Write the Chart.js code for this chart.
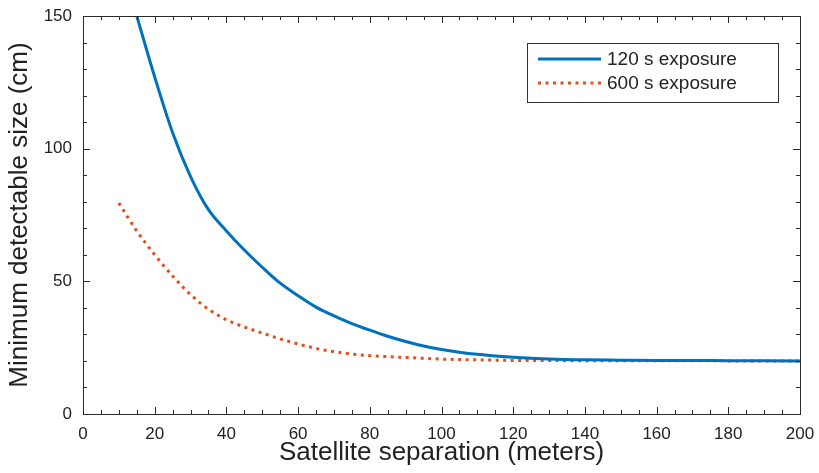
<!DOCTYPE html>
<html>
<head>
  <title>Minimum detectable size</title>
  <script src="https://cdn.jsdelivr.net/npm/chart.js"></script>
  <style>
    html, body { margin: 0; padding: 0; background: white; }
    #wrap { width: 819px; height: 473px; }
  </style>
</head>
<body>
  <div id="wrap"><canvas id="sizeChart" width="819" height="473"></canvas></div>

  <script>
    // separation (m) and minimum size (cm)
    const sep120 = [15, 20, 25, 30, 35, 40, 45, 50, 55, 60, 65, 70, 75, 80, 85, 90, 95, 100, 105, 110, 115, 120, 125, 130, 140, 150, 160, 180, 200];
    const size120 = [150, 127, 106, 89.5, 77, 69, 61.8, 55.3, 49.3, 44.6, 40.3, 37, 34.1, 31.6, 29.3, 27.3, 25.6, 24.3, 23.3, 22.5, 21.9, 21.4, 21, 20.7, 20.4, 20.3, 20.2, 20.1, 20];
    const sep600 = [10, 15, 20, 25, 30, 35, 40, 45, 50, 55, 60, 65, 70, 75, 80, 85, 90, 95, 100, 110, 120, 140, 160, 200];
    const size600 = [79.5, 69, 60, 52, 45, 39.5, 35.5, 32.8, 30.5, 28.3, 26.4, 24.7, 23.5, 22.6, 22, 21.6, 21.3, 21, 20.7, 20.4, 20.2, 20.1, 20.05, 20];
    const seriesNames = ["120 s exposure", "600 s exposure"];

    const FONT = "'Liberation Sans', Arial, Helvetica, sans-serif";
    const INK = "#222";

    function pts(xs, ys) {
      return xs.map((x, i) => ({ x: x, y: ys[i] }));
    }

    // box round the plot, inward ticks on all four sides, and the legend
    const framePlugin = {
      id: "frame",
      afterDraw(chart) {
        const ctx = chart.ctx;
        const a = chart.chartArea;
        const xs = chart.scales.x, ys = chart.scales.y;
        ctx.save();
        ctx.strokeStyle = "#2a2a2a";
        ctx.lineWidth = 1;
        ctx.strokeRect(Math.round(a.left) + 0.5, Math.round(a.top) + 0.5,
                       Math.round(a.right - a.left), Math.round(a.bottom - a.top));

        ctx.beginPath();
        for (let v = 0; v <= 200; v += 5) {
          const px = Math.round(xs.getPixelForValue(v)) + 0.5;
          const len = v % 20 === 0 ? 7 : 4;
          ctx.moveTo(px, a.bottom); ctx.lineTo(px, a.bottom - len);
          ctx.moveTo(px, a.top); ctx.lineTo(px, a.top + len);
        }
        for (let v = 0; v <= 150; v += 10) {
          const py = Math.round(ys.getPixelForValue(v)) + 0.5;
          const len = v % 50 === 0 ? 7 : 4;
          ctx.moveTo(a.left, py); ctx.lineTo(a.left + len, py);
          ctx.moveTo(a.right, py); ctx.lineTo(a.right - len, py);
        }
        ctx.stroke();

        // legend
        const bx = 527, by = 43, bw = 251, bh = 59;
        ctx.fillStyle = "white";
        ctx.fillRect(bx, by, bw, bh);
        ctx.strokeStyle = "#333";
        ctx.strokeRect(bx + 0.5, by + 0.5, bw, bh);
        const rows = [59, 83];
        chart.data.datasets.forEach((ds, i) => {
          ctx.beginPath();
          ctx.strokeStyle = ds.borderColor;
          ctx.lineWidth = ds.borderWidth;
          ctx.setLineDash(ds.borderDash || []);
          ctx.moveTo(538, rows[i]);
          ctx.lineTo(601, rows[i]);
          ctx.stroke();
          ctx.setLineDash([]);
          ctx.fillStyle = INK;
          ctx.font = "19px " + FONT;
          ctx.textBaseline = "middle";
          ctx.fillText(ds.label, 607, rows[i] + 1);
        });
        ctx.restore();
      }
    };

    const ctx = document.getElementById("sizeChart").getContext("2d");
    new Chart(ctx, {
      type: "line",
      data: {
        datasets: [
          {
            label: seriesNames[0],
            data: pts(sep120, size120),
            borderColor: "#0072BD",
            borderWidth: 3,
            pointRadius: 0,
            cubicInterpolationMode: "monotone",
            fill: false
          },
          {
            label: seriesNames[1],
            data: pts(sep600, size600),
            borderColor: "#E0501F",
            borderWidth: 3,
            borderDash: [3, 4.5],
            pointRadius: 0,
            cubicInterpolationMode: "monotone",
            fill: false
          }
        ]
      },
      options: {
        responsive: false,
        animation: false,
        layout: { padding: { left: 0, right: 19, top: 16, bottom: 0 } },
        plugins: { legend: { display: false }, tooltip: { enabled: false } },
        scales: {
          x: {
            type: "linear",
            min: 0, max: 200,
            grid: { display: false, drawTicks: false },
            border: { display: false },
            ticks: { stepSize: 20, padding: 10, color: INK, font: { family: FONT, size: 17 }, maxRotation: 0 },
            title: { display: true, text: "Satellite separation (meters)", color: INK,
                     font: { family: FONT, size: 26 }, padding: { top: 0, bottom: 5 } },
            afterFit: s => { s.height = 59; s.paddingLeft = 0; s.paddingRight = 0; }
          },
          y: {
            min: 0, max: 150,
            grid: { display: false, drawTicks: false },
            border: { display: false },
            ticks: { stepSize: 50, padding: 11, color: INK, font: { family: FONT, size: 17 } },
            title: { display: true, text: "Minimum detectable size (cm)", color: INK,
                     font: { family: FONT, size: 26 }, padding: { top: 4, bottom: 0 } },
            afterFit: s => { s.width = 83; s.paddingTop = 0; s.paddingBottom = 0; }
          }
        }
      },
      plugins: [framePlugin]
    });
  </script>
</body>
</html>
